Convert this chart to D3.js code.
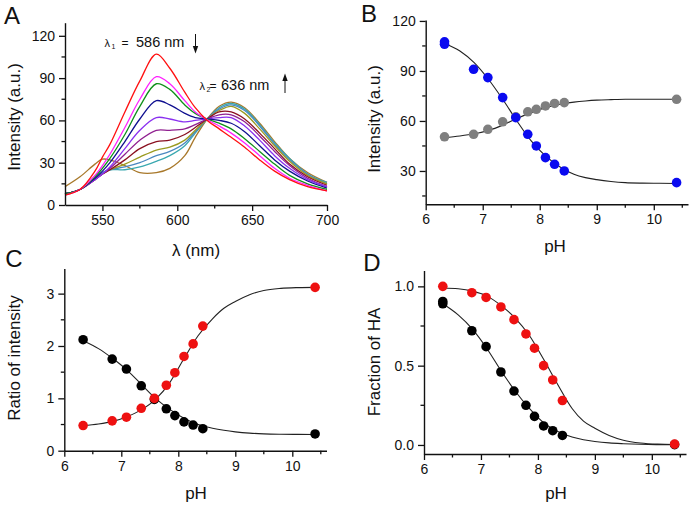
<!DOCTYPE html>
<html><head><meta charset="utf-8">
<script src="https://cdn.jsdelivr.net/npm/d3@7"></script>
<style>body{margin:0;background:#fff}svg{display:block;font-family:"Liberation Sans",Arial,sans-serif}</style>
</head><body><svg id="c" width="691" height="511"></svg>
<script>
// ---------- Panel A: emission spectra ----------
const wavelengths = [525,535,545,550,555,565,575,586,595,605,612,620,628,636,645,655,665,675,687,700];
const specRed     = [7,11,24,34,43,66,88,107,97,80,69,60,54,48,41,32,24,18,13,10];
const specMagenta = [7,11,21,28,36,55,75,91,86,74,66,60.5,56,51,44,35,26,19,14,10];
const specGreen   = [8,11,20,26,33,50,70,86,82,71,65,61,58,54,47,38,29,21,15,11];
const specNavy    = [8,11,19,24,30,45,61,74,71,65,62,61,60,58,52,42,32,24,17,12];
const specViolet  = [8,11,18,22,27,40,53,62,61,59,60,61,62,62,56,46,35,26,18,13];
const specPurple  = [8,11,18,22,26,36,46,53,53,54,57,61,64,64,59,49,38,28,19,13];
const specMaroon  = [8,11,18,22,25,32,40,45,46,50,55,61,66,66,61,51,40,29,20,14];
const specOlive   = [8,11,18,22,25,29,34,39,41,46,53,61,67,70,65,54,42,31,21,15];
const specSteel   = [8,11,19,23,25,27,30,35,38,44,52,61,68,71,67,56,43,32,22,15];
const specTeal    = [8,11,19,23,25,25,27,31,35,42,51,61,69,72,68,57,44,33,22,16];
const specBrown   = [13,20,29,32.5,32,28,23,23,26,35,48,61,70,73,69,58,45,33,23,16];
const spectra = [specBrown,specTeal,specSteel,specOlive,specMaroon,specPurple,specViolet,specNavy,specGreen,specMagenta,specRed];
const specColors = ["#a8782a","#3aa8b0","#4a88c0","#9a9a20","#8a1020","#902090","#8a30f0","#101090","#10901a","#ff20ff","#ff1010"];
const aXTicks = [550,600,650,700], aXMinor = [575,625,675];
const aYTicks = [0,30,60,90,120], aYMinor = [15,45,75,105];

// ---------- pH data ----------
const phAll = [6.33,6.84,7.09,7.35,7.58,7.79,7.94,8.10,8.26,8.43,10.40];
const intBlue = [107.5,91,86,74,62,52,45,38,34,30,23];
const intBlueRep = [106];      // replicate at first pH
const intGray = [50.5,52,55,59.5,62.5,65.5,67,69,70.5,71,73];
const ratioBlack = [2.12,1.75,1.56,1.24,0.98,0.80,0.67,0.55,0.49,0.42,0.32];
const ratioRed   = [0.48,0.57,0.64,0.81,1.00,1.25,1.49,1.80,2.04,2.38,3.12];
const fracRed    = [1.00,0.96,0.93,0.87,0.79,0.70,0.61,0.50,0.41,0.28,0.005];
const fracBlack  = [0.905,0.72,0.62,0.46,0.34,0.25,0.18,0.12,0.09,0.06,0.002];
const fracBlackRep = [0.89];

// fitted curves
const fitPH      = [6.33,6.6,6.85,7.1,7.35,7.6,7.85,8.1,8.35,8.6,8.8,9.0,9.25,9.5,9.8,10.1,10.4];
const fitBlue    = [106.5,102,95,85,73,60,48,39,32.5,28,26,24.8,23.7,23,22.7,22.6,22.5];
const fitGray    = [50,51,52.3,54.3,57.5,61.5,65,68,70,71.3,72,72.5,72.8,73,73,73,73];
const fitRatioBk = [2.1,1.95,1.76,1.54,1.27,1.0,0.79,0.62,0.5,0.43,0.39,0.36,0.335,0.322,0.315,0.312,0.31];
const fitRatioRd = [0.48,0.51,0.56,0.65,0.78,0.98,1.3,1.76,2.2,2.52,2.72,2.85,2.98,3.06,3.1,3.115,3.12];
const fitFracRd  = [0.99,0.985,0.97,0.94,0.88,0.8,0.69,0.54,0.38,0.23,0.15,0.105,0.06,0.03,0.012,0.005,0.003];
const fitFracBk  = [0.89,0.82,0.73,0.61,0.47,0.34,0.23,0.14,0.085,0.05,0.033,0.022,0.013,0.008,0.004,0.002,0.001];
const phTicks = [6,7,8,9,10], phMinor = [6.5,7.5,8.5,9.5,10.5];

const svg = d3.select("#c");
const FONT = '"Liberation Sans", Arial, sans-serif';

function axes(g, x, y, xt, xm, yt, ym, yfmt){
  const [x0,x1] = x.range(), [y0,y1] = y.range();
  const xa = g.append("g").attr("transform",`translate(0,${y0})`)
    .call(d3.axisBottom(x).tickValues(xt).tickSize(6).tickPadding(4).tickSizeOuter(0).tickFormat(d=>String(d)));
  xa.append("g").selectAll("line").data(xm).join("line")
    .attr("x1",d=>x(d)).attr("x2",d=>x(d)).attr("y1",0).attr("y2",3.5).attr("stroke","#111").attr("stroke-width",1.3);
  const ya = g.append("g").attr("transform",`translate(${x0},0)`)
    .call(d3.axisLeft(y).tickValues(yt).tickSize(6).tickPadding(4).tickSizeOuter(0).tickFormat(yfmt||(d=>String(d))));
  ya.append("g").selectAll("line").data(ym).join("line")
    .attr("y1",d=>y(d)).attr("y2",d=>y(d)).attr("x1",0).attr("x2",-3.5).attr("stroke","#111").attr("stroke-width",1.3);
  [xa,ya].forEach(a=>{
    a.selectAll(".domain").attr("stroke","#111").attr("stroke-width",1.4);
    a.selectAll(".tick line").attr("stroke","#111").attr("stroke-width",1.3);
    a.selectAll("text").attr("font-family",FONT).attr("font-size",14).attr("fill","#111");
  });
}
function label(t,x,y,size,rot){
  const e = svg.append("text").attr("font-family",FONT).attr("font-size",size).attr("fill","#111").attr("text-anchor","middle").text(t);
  if(rot) e.attr("transform",`translate(${x},${y}) rotate(-90)`); else e.attr("x",x).attr("y",y);
  return e;
}
function fitLine(g,x,y,vals){
  g.append("path").datum(fitPH.map((p,i)=>[p,vals[i]]))
    .attr("d",d3.line().x(d=>x(d[0])).y(d=>y(d[1])).curve(d3.curveMonotoneX))
    .attr("fill","none").attr("stroke","#222").attr("stroke-width",1.1);
}
function dots(g,x,y,phs,vals,color){
  g.selectAll(null).data(phs.map((p,i)=>[p,vals[i]])).join("circle")
    .attr("cx",d=>x(d[0])).attr("cy",d=>y(d[1])).attr("r",4.8).attr("fill",color);
}
function lambdaLabel(sub, xL, xEq, xNum, yBase, txt){
  const t = svg.append("text").attr("font-family",FONT).attr("fill","#111");
  t.append("tspan").attr("x",xL).attr("y",yBase).attr("font-size",11).text("λ");
  t.append("tspan").attr("x",xL+7).attr("y",yBase+2.5).attr("font-size",7).text(sub);
  t.append("tspan").attr("x",xEq).attr("y",yBase).attr("font-size",12).text("=");
  t.append("tspan").attr("x",xNum).attr("y",yBase).attr("font-size",14.5).text(txt);
}

// ---- Panel A ----
{
  const x = d3.scaleLinear([525,700],[65,327]);
  const y = d3.scaleLinear([0,129.3],[205,22.7]);
  const g = svg.append("g");
  const line = d3.line().x((d,i)=>x(wavelengths[i])).y(d=>y(d)).curve(d3.curveCatmullRom.alpha(0.5));
  spectra.forEach((s,k)=>{
    g.append("path").attr("d",line(s)).attr("fill","none").attr("stroke",specColors[k]).attr("stroke-width",1.3);
  });
  axes(g,x,y,aXTicks,aXMinor,aYTicks,aYMinor);
  label("A",12,24,24);
  label("Intensity (a.u.)",20,117,17,true);
  label("λ (nm)",196,256,17);
  lambdaLabel("1",104.5,121.5,136,46.5,"586 nm");
  lambdaLabel("2",199.5,209.5,221,89.5,"636 nm");
  // arrows
  svg.append("line").attr("x1",195.5).attr("x2",195.5).attr("y1",34).attr("y2",48).attr("stroke","#111").attr("stroke-width",1);
  svg.append("path").attr("d","M192.8,46 L198.2,46 L195.5,53.5 Z").attr("fill","#111");
  svg.append("line").attr("x1",285).attr("x2",285).attr("y1",93).attr("y2",79).attr("stroke","#111").attr("stroke-width",1);
  svg.append("path").attr("d","M282.3,81 L287.7,81 L285,73.5 Z").attr("fill","#111");
}

// ---- Panel B ----
{
  const x = d3.scaleLinear([6,10.6],[425.7,688]);
  const y = d3.scaleLinear([10,120.5],[204.3,20.1]);
  const g = svg.append("g");
  axes(g,x,y,phTicks,phMinor,[30,60,90,120],[15,45,75,105]);
  fitLine(g,x,y,fitBlue); fitLine(g,x,y,fitGray);
  dots(g,x,y,phAll,intGray,"#7f7f7f");
  dots(g,x,y,phAll,intBlue,"#0a0af0");
  dots(g,x,y,[phAll[0]],intBlueRep,"#0a0af0");
  label("B",369,22,24);
  label("Intensity (a.u.)",380,119,17,true);
  label("pH",555,252,17);
}

// ---- Panel C ----
{
  const x = d3.scaleLinear([6,10.6],[64.3,326.5]);
  const y = d3.scaleLinear([0,3.48],[450.7,268.5]);
  const g = svg.append("g");
  axes(g,x,y,phTicks,phMinor,[0,1,2,3],[0.5,1.5,2.5]);
  fitLine(g,x,y,fitRatioBk); fitLine(g,x,y,fitRatioRd);
  dots(g,x,y,phAll,ratioBlack,"#000");
  dots(g,x,y,phAll,ratioRed,"#ee1111");
  label("C",14,267,24);
  label("Ratio of intensity",20,358,17,true);
  label("pH",196,499,17);
}

// ---- Panel D ----
{
  const x = d3.scaleLinear([6,10.6],[424,686]);
  const y = d3.scaleLinear([-0.057,1.1],[454,270.5]);
  const g = svg.append("g");
  axes(g,x,y,phTicks,phMinor,[0,0.5,1.0],[0.25,0.75],d3.format(".1f"));
  fitLine(g,x,y,fitFracRd); fitLine(g,x,y,fitFracBk);
  dots(g,x,y,phAll,fracBlack,"#000");
  dots(g,x,y,[phAll[0]],fracBlackRep,"#000");
  dots(g,x,y,phAll,fracRed,"#ee1111");
  label("D",372,271,24);
  label("Fraction of HA",380,362,17,true);
  label("pH",556,499,17);
}
</script></body></html>
